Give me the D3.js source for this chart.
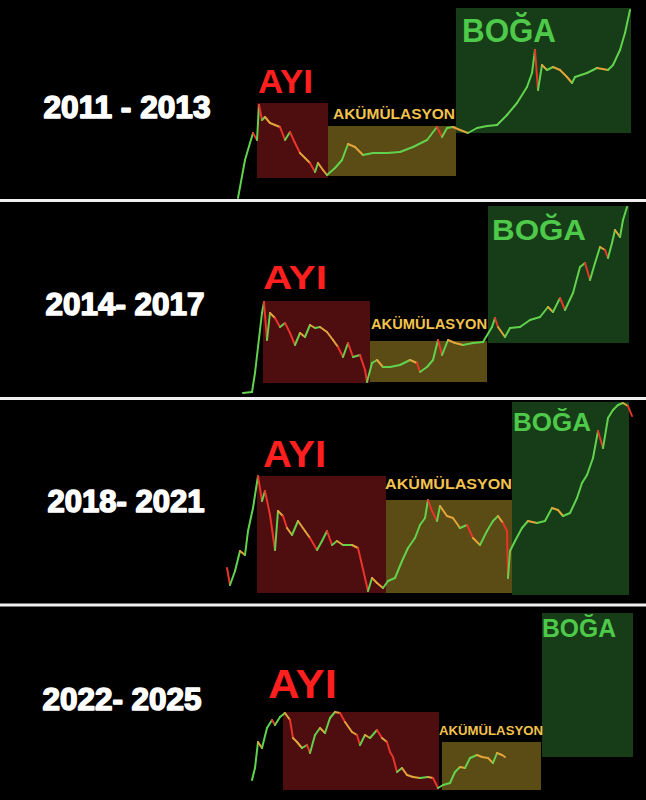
<!DOCTYPE html>
<html><head><meta charset="utf-8">
<script src="https://cdn.jsdelivr.net/npm/d3@7"></script>
<style>html,body{margin:0;padding:0;background:#000;}svg{display:block;}</style>
</head><body>
<script>
// ---------- DATA ----------
const yearLabels = ["2011 - 2013", "2014- 2017", "2018- 2021", "2022- 2025"];
const phaseNames = ["AYI", "AKÜMÜLASYON", "BOĞA"];

// Cycle 1 (2011-2013): time units / relative price
const time1  = [18,25,30,33,37,39,42,45,50,60,65,70,75,80,85,90,95,98,103,107,115,122,128,135,143,153,167,180,193,207,217,222,227,233,240,248,257,267,277,287,297,307,312,315,318,322,327,333,340,347,352,355,367,377,388,393,400,405,410];
const price1 = [1,39,56,66,59,94,79,82,76,72,59,67,56,46,41,36,27,36,29,24,31,39,55,52,44,46,46,47,52,59,72,62,71,72,69,66,71,73,74,84,96,112,126,149,109,134,129,132,129,122,116,122,126,131,129,134,149,166,189];
const phaseStart1 = [37, 108, 236], phaseEnd1 = [108, 236, 411];
const phaseLow1   = [21, 23, 66],   phaseHigh1 = [96, 73, 191];

// Cycle 2 (2014-2017)
const time2  = [23,32,35,38,42,44,47,50,55,60,65,70,75,80,85,90,95,100,107,113,118,123,128,133,140,145,147,152,157,163,170,180,190,197,200,207,213,218,222,228,235,243,253,263,272,275,278,285,290,300,310,320,328,333,340,345,353,360,365,370,375,380,385,388,392,395,400,403,407];
const price2 = [4,5,24,50,84,95,57,84,79,70,74,64,52,64,60,72,69,70,65,57,50,40,54,40,42,27,15,34,37,30,30,32,37,34,25,30,37,57,42,57,54,52,54,55,70,79,70,60,69,70,77,80,90,85,99,87,104,130,134,117,134,150,147,139,154,167,160,177,190];
const phaseStart2 = [43, 150, 268], phaseEnd2 = [150, 267, 409];
const phaseLow2   = [14, 15, 54],   phaseHigh2 = [96, 56, 191];

// Cycle 3 (2018-2021)
const time3  = [7,10,15,20,25,28,33,38,42,45,50,55,58,63,67,72,78,85,90,97,102,107,112,117,123,132,138,142,145,148,152,157,163,168,175,182,188,195,200,205,208,212,217,220,227,233,240,247,253,260,267,273,278,283,287,288,290,295,302,308,317,325,332,338,343,350,357,362,367,373,378,383,388,393,398,403,408,412];
const price3 = [35,18,32,52,48,72,95,127,102,112,88,53,92,87,75,68,82,72,65,53,62,72,58,62,58,58,55,38,25,12,25,20,15,22,25,42,55,65,78,85,103,92,82,97,87,85,75,78,65,58,72,82,87,80,72,25,52,62,75,82,80,82,95,93,87,90,105,120,128,145,172,155,185,193,198,200,197,187];
const phaseStart3 = [37, 166, 292], phaseEnd3 = [166, 292, 409];
const phaseLow3   = [10, 10, 8],    phaseHigh3 = [127, 103, 201];

// Cycle 4 (2022-2025)
const time4  = [32,35,38,42,47,52,55,60,65,70,73,77,82,87,90,95,100,105,110,115,120,125,132,137,140,145,150,157,162,167,170,173,177,182,187,193,200,208,213,218,223,230,235,240,245,250,257,262,268,273,277,282,285];
const price4 = [20,32,58,52,72,80,75,83,87,80,62,58,52,55,47,65,72,67,82,88,87,78,68,65,55,65,62,70,62,58,48,43,28,32,25,23,22,23,22,12,15,17,28,33,32,42,45,43,42,37,47,45,43];
const phaseStart4 = [63, 222, 322], phaseEnd4 = [219, 321, 413];
const phaseLow4   = [10, 10, 43],   phaseHigh4 = [88, 58, 187];

// ---------- LAYOUT ----------
const W = 646, H = 800;
const svg = d3.select("body").append("svg").attr("width", W).attr("height", H)
  .style("background", "#000");
svg.append("rect").attr("width", W).attr("height", H).attr("fill", "#000");

const x = d3.scaleLinear().domain([0, 420]).range([220, 640]);

const panels = [
  { year: yearLabels[0], bottom: 199, t: time1, p: price1, s: phaseStart1, e: phaseEnd1, lo: phaseLow1, hi: phaseHigh1,
    yearPos: [43, 118, 168],
    labels: [[258, 93, 55, 33], [333, 119, 122, 15.5], [462, 42, 94, 33]] },
  { year: yearLabels[1], bottom: 397, t: time2, p: price2, s: phaseStart2, e: phaseEnd2, lo: phaseLow2, hi: phaseHigh2,
    yearPos: [45, 315, 160],
    labels: [[263, 289, 64, 34], [371, 329, 116, 14.5], [492, 240, 94, 30]] },
  { year: yearLabels[2], bottom: 603, t: time3, p: price3, s: phaseStart3, e: phaseEnd3, lo: phaseLow3, hi: phaseHigh3,
    yearPos: [47, 512, 158],
    labels: [[263, 467, 63, 36], [385, 489, 127, 14.5], [513, 431, 78, 25]] },
  { year: yearLabels[3], bottom: 800, t: time4, p: price4, s: phaseStart4, e: phaseEnd4, lo: phaseLow4, hi: phaseHigh4,
    yearPos: [42, 710, 160],
    labels: [[268, 698, 69, 41], [439, 735, 104, 13.5], [542, 637, 74, 25]] }
];

const rectFill = ["#4e0d0f", "#5b4b15", "#163d17"];
const labelFill = ["#ff1f1f", "#f3c24e", "#4ec94a"];
const FONT = "'Liberation Sans', Arial, sans-serif";

panels.forEach((P, pi) => {
  const y = d3.scaleLinear().domain([0, 200]).range([P.bottom, P.bottom - 200]);
  const g = svg.append("g");

  // phase rectangles
  g.selectAll("rect.phase").data(d3.range(3)).join("rect")
    .attr("class", "phase")
    .attr("x", i => x(P.s[i]))
    .attr("width", i => x(P.e[i]) - x(P.s[i]))
    .attr("y", i => y(P.hi[i]))
    .attr("height", i => y(P.lo[i]) - y(P.hi[i]))
    .attr("fill", (i) => rectFill[i]);

  // price path as coloured segments
  const pts = P.t.map((t, i) => [x(t), y(P.p[i])]);
  const segs = d3.pairs(pts);
  g.selectAll("line.seg").data(segs).join("line")
    .attr("x1", d => d[0][0]).attr("y1", d => d[0][1])
    .attr("x2", d => d[1][0]).attr("y2", d => d[1][1])
    .attr("stroke", d => {
      const dy = d[1][1] - d[0][1];
      if (dy <= 0) return "#62d24e";
      const slope = dy / Math.max(1, d[1][0] - d[0][0]);
      return slope > 1.5 ? "#e8342a" : "#e3a43a";
    })
    .attr("stroke-width", 2)
    .attr("stroke-linecap", "round");

  // phase labels
  P.labels.forEach((L, i) => {
    g.append("text")
      .attr("x", L[0]).attr("y", L[1])
      .attr("textLength", L[2]).attr("lengthAdjust", "spacingAndGlyphs")
      .attr("font-family", FONT).attr("font-weight", "bold")
      .attr("font-size", L[3])
      .attr("fill", labelFill[i])
      .text(phaseNames[i]);
  });

  // year label
  g.append("text")
    .attr("x", P.yearPos[0] + 0.5).attr("y", P.yearPos[1])
    .attr("textLength", P.yearPos[2] - 1).attr("lengthAdjust", "spacingAndGlyphs")
    .attr("font-family", FONT).attr("font-weight", "bold")
    .attr("font-size", 31)
    .attr("fill", "#ffffff").attr("stroke", "#ffffff").attr("stroke-width", 1.6)
    .attr("stroke-linejoin", "round")
    .text(P.year);
});

// separators
[200.5, 398.5, 605].forEach(yy => {
  svg.append("line").attr("x1", 0).attr("x2", W).attr("y1", yy).attr("y2", yy)
    .attr("stroke", "#f0f0f0").attr("stroke-width", 3);
});
</script>
</body></html>
